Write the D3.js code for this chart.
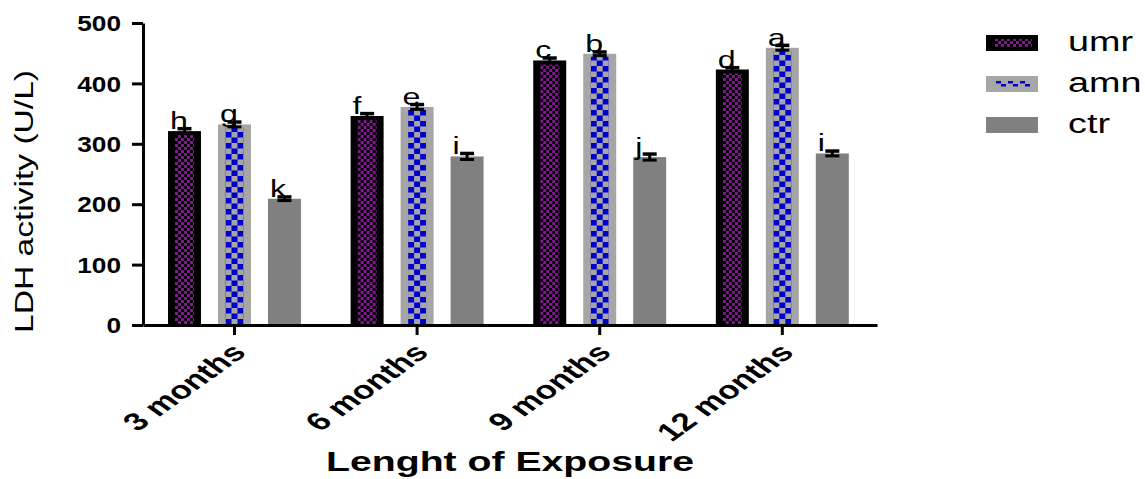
<!DOCTYPE html>
<html>
<head>
<meta charset="utf-8">
<script src="https://cdn.jsdelivr.net/npm/d3@7"></script>
<style>
  body { margin: 0; background: #fff; }
  svg { display: block; }
  text { font-family: "Liberation Sans", Arial, Helvetica, sans-serif; fill: #000; }
</style>
</head>
<body>
<svg id="chart" width="1145" height="479"></svg>
<script>
// LDH activity by length of exposure, three treatment groups
const categories = ["3 months", "6 months", "9 months", "12 months"];
const seriesNames = ["umr", "amn", "ctr"];
const umrValues = [321, 346, 438, 423];
const amnValues = [332, 361, 449, 459];
const ctrValues = [209, 279, 278, 284];
const umrErrors = [4, 4, 4, 3];
const amnErrors = [4, 4, 3, 4];
const ctrErrors = [3, 5, 5, 4];
const umrLetters = ["h", "f", "c", "d"];
const amnLetters = ["g", "e", "b", "a"];
const ctrLetters = ["k", "i", "j", "i"];
const yTicks = [0, 100, 200, 300, 400, 500];
const yTitle = "LDH activity (U/L)";
const xTitle = "Lenght of Exposure";

const seriesData = {
  umr: { values: umrValues, errors: umrErrors, letters: umrLetters },
  amn: { values: amnValues, errors: amnErrors, letters: amnLetters },
  ctr: { values: ctrValues, errors: ctrErrors, letters: ctrLetters }
};

const rows = categories.map((cat, i) => ({
  cat,
  bars: seriesNames.map(s => ({
    series: s,
    value: seriesData[s].values[i],
    err: seriesData[s].errors[i],
    letter: seriesData[s].letters[i]
  }))
}));

const SX = 1.4; // horizontal text stretch

const svg = d3.select("#chart");

const x0 = d3.scaleBand().domain(categories).range([143, 877])
  .paddingInner(0.272).paddingOuter(0.1457).align(0.47);
const x1 = d3.scaleBand().domain(seriesNames).range([0, x0.bandwidth()])
  .paddingInner(0.34).paddingOuter(0);
const y = d3.scaleLinear().domain([0, 500]).range([325, 23]);

// fill patterns
const defs = svg.append("defs");
const pUmr = defs.append("pattern").attr("id", "umrCheck")
  .attr("patternUnits", "userSpaceOnUse").attr("width", 6).attr("height", 6);
pUmr.append("rect").attr("width", 6).attr("height", 6).attr("fill", "#000");
pUmr.append("rect").attr("x", 0).attr("y", 0).attr("width", 3).attr("height", 3).attr("fill", "#7e1a8c");
pUmr.append("rect").attr("x", 3).attr("y", 3).attr("width", 3).attr("height", 3).attr("fill", "#7e1a8c");

const pAmn = defs.append("pattern").attr("id", "amnCheck")
  .attr("patternUnits", "userSpaceOnUse").attr("width", 12).attr("height", 11);
pAmn.append("rect").attr("width", 12).attr("height", 11).attr("fill", "#a6a6a6");
pAmn.append("rect").attr("x", 0).attr("y", 0).attr("width", 6).attr("height", 5.5).attr("fill", "#0000cc");
pAmn.append("rect").attr("x", 6).attr("y", 5.5).attr("width", 6).attr("height", 5.5).attr("fill", "#0000cc");

const pAmnKey = defs.append("pattern").attr("id", "amnKey")
  .attr("patternUnits", "userSpaceOnUse").attr("width", 12).attr("height", 6);
pAmnKey.append("rect").attr("width", 12).attr("height", 6).attr("fill", "#a6a6a6");
pAmnKey.append("rect").attr("x", 1).attr("y", 0).attr("width", 5).attr("height", 2.5).attr("fill", "#0000cc");
pAmnKey.append("rect").attr("x", 6).attr("y", 3).attr("width", 5).attr("height", 2.5).attr("fill", "#0000cc");

const baseFill = { umr: "#000", amn: "#a6a6a6", ctr: "#808080" };

// bars
const groups = svg.append("g").selectAll("g.grp").data(rows).join("g")
  .attr("class", "grp")
  .attr("transform", d => `translate(${x0(d.cat)},0)`);

const bar = groups.selectAll("g.bar").data(d => d.bars).join("g")
  .attr("class", "bar")
  .attr("transform", d => `translate(${x1(d.series)},0)`);

const bw = x1.bandwidth();
bar.append("rect")
  .attr("x", 0).attr("width", bw)
  .attr("y", d => y(d.value))
  .attr("height", d => y(0) - y(d.value))
  .attr("fill", d => baseFill[d.series]);

// inner patterned strips
bar.filter(d => d.series === "umr").append("g")
  .attr("transform", `translate(7,0)`)
  .append("rect")
  .attr("x", 0).attr("width", bw - 14)
  .attr("y", d => y(d.value) + 4)
  .attr("height", d => y(0) - y(d.value) - 4)
  .attr("fill", "url(#umrCheck)");

bar.filter(d => d.series === "amn").append("g")
  .attr("transform", `translate(7.5,0)`)
  .append("rect")
  .attr("x", 0).attr("width", bw - 15)
  .attr("y", d => y(d.value) + 3)
  .attr("height", d => y(0) - y(d.value) - 3)
  .attr("fill", "url(#amnCheck)");

// error bars
const capW = 7;
bar.append("line")
  .attr("x1", bw / 2).attr("x2", bw / 2)
  .attr("y1", d => y(d.value - d.err)).attr("y2", d => y(d.value + d.err))
  .attr("stroke", "#000").attr("stroke-width", 3);
bar.append("line")
  .attr("x1", bw / 2 - capW).attr("x2", bw / 2 + capW)
  .attr("y1", d => y(d.value + d.err)).attr("y2", d => y(d.value + d.err))
  .attr("stroke", "#000").attr("stroke-width", 3.5);
bar.append("line")
  .attr("x1", bw / 2 - capW).attr("x2", bw / 2 + capW)
  .attr("y1", d => y(d.value - d.err)).attr("y2", d => y(d.value - d.err))
  .attr("stroke", "#000").attr("stroke-width", 3);

// significance letters
bar.append("text")
  .attr("transform", d => `translate(2,${y(d.value) - 2}) scale(${SX},1)`)
  .attr("font-size", 23)
  .attr("text-anchor", "start")
  .text(d => d.letter);

// y axis
const yAxis = svg.append("g")
  .attr("transform", `translate(143,0)`)
  .call(d3.axisLeft(y).tickValues(yTicks).tickSize(11).tickSizeOuter(0).tickPadding(0));
yAxis.select(".domain").attr("stroke-width", 3);
yAxis.selectAll(".tick line").attr("stroke-width", 3);
yAxis.selectAll(".tick text")
  .attr("x", null).attr("dy", null)
  .attr("transform", `translate(-22,7.7) scale(1.22,1)`)
  .attr("text-anchor", "end")
  .attr("font-size", 21.5)
  .attr("font-weight", "bold")
  .attr("font-family", null);

// x axis
const xAxis = svg.append("g")
  .attr("transform", `translate(0,325)`)
  .call(d3.axisBottom(x0).tickSize(10).tickSizeOuter(0));
xAxis.select(".domain").attr("stroke-width", 3);
xAxis.selectAll(".tick line").attr("stroke-width", 3);
xAxis.selectAll(".tick text")
  .attr("y", null).attr("dy", null)
  .attr("transform", `translate(13,29) scale(${SX},1) rotate(-45)`)
  .attr("text-anchor", "end")
  .attr("font-size", 25)
  .attr("font-weight", "bold")
  .attr("font-family", null);
svg.selectAll(".tick text").attr("fill", "#000");

// axis titles
svg.append("text")
  .attr("transform", `translate(33,201.5) rotate(-90)`)
  .attr("text-anchor", "middle")
  .attr("font-size", 26)
  .attr("textLength", 263)
  .attr("lengthAdjust", "spacingAndGlyphs")
  .text(yTitle);

svg.append("text")
  .attr("transform", `translate(${(143 + 877) / 2},471) scale(${SX},1)`)
  .attr("text-anchor", "middle")
  .attr("font-size", 28)
  .attr("font-weight", "bold")
  .text(xTitle);

// legend
const legendY = d3.scalePoint().domain(seriesNames).range([35, 117]);
const key = svg.append("g").selectAll("g").data(seriesNames).join("g")
  .attr("transform", d => `translate(986,${legendY(d)})`);
key.append("rect").attr("width", 52).attr("height", 16)
  .attr("fill", d => baseFill[d]);
key.filter(d => d === "umr").append("rect")
  .attr("x", 9).attr("y", 4).attr("width", 37).attr("height", 8)
  .attr("fill", "url(#umrCheck)");
key.filter(d => d === "amn").append("g").attr("transform", "translate(9,5)")
  .append("rect").attr("width", 36).attr("height", 6)
  .attr("fill", "url(#amnKey)");
key.append("text")
  .attr("transform", `translate(82,16) scale(${SX},1)`)
  .attr("font-size", 27)
  .text(d => d);
</script>
</body>
</html>
